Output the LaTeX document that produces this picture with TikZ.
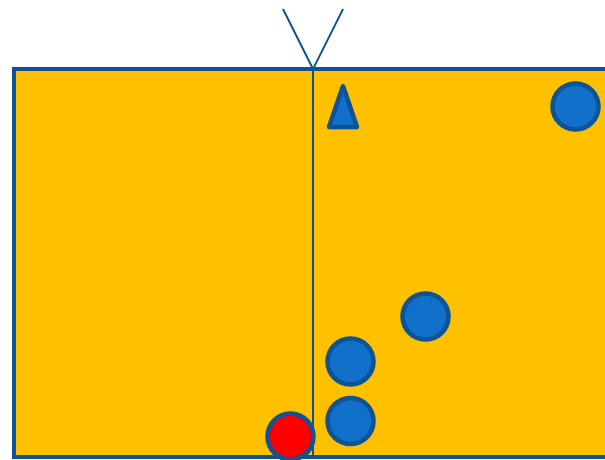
\documentclass[tikz,border=0pt]{standalone}
\usetikzlibrary{positioning}
\definecolor{amber}{HTML}{FFC000}
\definecolor{navy}{HTML}{0F5396}
\definecolor{piece}{HTML}{1170C9}

\begin{document}
\begin{tikzpicture}[
  x=1pt,y=-1pt,
  field/.style={draw=navy,line width=4pt,fill=amber},
  midline/.style={draw=navy,line width=1.8pt},
  cone/.style={draw=navy,line width=4.5pt,line join=round,fill=piece},
  disc/.style={draw=navy,circle,line width=4.5pt,minimum size=46pt,inner sep=0pt,fill=piece}
]
\useasboundingbox (0,0) rectangle (605,459);
\clip (0,0) rectangle (605,459);
\draw[field] (13.5,69) rectangle (640,457);
% centre line and the V above it
\coordinate (top) at (313,69);
\coordinate (bot) at (313,459);
\coordinate (vl) at (283,9);
\coordinate (vr) at (343,9);
\draw[midline] (top) -- (bot);
\draw[midline] (vl) -- (top) -- (vr);
\draw[cone] (343,86) -- (357,127) -- (329,127) -- cycle;
% pieces
\node[disc] (p1) at (575.5,106.5) {};
\node[disc] (p2) at (425.5,316.5) {};
\node[disc] (p3) at (350.5,361.5) {};
\node[disc] (p4) at (350.5,421) {};
\node[disc,fill=red] (ball) at (290.5,436.5) {};
\end{tikzpicture}
\end{document}
